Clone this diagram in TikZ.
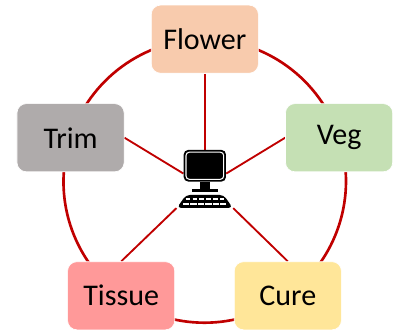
\documentclass[tikz,border=0pt]{standalone}
\usepackage{fontspec}
\setmainfont{Carlito}
\usepackage{xcolor}
\definecolor{ringred}{RGB}{192,0,0}
\definecolor{flowerpeach}{RGB}{248,203,173}
\definecolor{veggreen}{RGB}{197,224,180}
\definecolor{curegold}{RGB}{255,230,153}
\definecolor{tissuepink}{RGB}{255,153,153}
\definecolor{trimgray}{RGB}{175,171,171}
\usetikzlibrary{shapes.geometric, positioning, backgrounds, calc}
\tikzset{
  stage/.style={
    rectangle, draw=white, line width=0.5pt,
    minimum width=81pt, minimum height=51.5pt, inner sep=0pt,
    align=center, rounded corners=7pt, font=\fontsize{22.7}{26}\selectfont},
  ring/.style={ringred, line width=2pt, bend left=36, looseness=0.94},
  spoke/.style={ringred, line width=1.4pt},
  screen/.style={
    rectangle, fill=black, inner sep=0pt,
    minimum width=32pt, minimum height=24pt, rounded corners=3.5pt},
  glass/.style={
    rectangle, draw=white, line width=0.8pt, fill=black, inner sep=0pt,
    minimum width=28.5pt, minimum height=20.5pt, rounded corners=2.5pt},
  keys/.style={white, line width=1.1pt, dash pattern=on 3.6pt off 1.6pt},
}
\begin{document}
\begin{tikzpicture}
  \node[stage, fill=flowerpeach] (flower) at (0,0) {Flower};
  \node[stage, fill=trimgray, below left=22.5pt and 20pt of flower] (trim) {Trim};
  \node[stage, fill=veggreen, below right=22.5pt and 20pt of flower] (veg) {Veg};
  \node[stage, fill=tissuepink, below right=67.5pt and -43.25pt of trim] (tissue) {Tissue};
  \node[stage, fill=curegold, below left=67.5pt and -42.75pt of veg] (cure) {Cure};
  \node[screen, below=57.5pt of flower] (monitor) {};
  \node[glass] (glass) at (monitor) {};
  \node[rectangle, fill=black, minimum width=7.5pt, minimum height=5pt, inner sep=0pt,
        below=0pt of monitor] (neck) {};
  \node[rectangle, fill=black, minimum width=19.5pt, minimum height=2.4pt, inner sep=0pt,
        below=0pt of neck] (stand) {};
  \node[trapezium, fill=black, trapezium angle=55, inner sep=0pt, rounded corners=3pt,
        below=1.5pt of stand] (keyboard) {\phantom{\rule{28.5pt}{9.75pt}}};
  \draw[keys] ([xshift=-14.5pt,yshift=1.8pt]keyboard.center) -- ([xshift=14.5pt,yshift=1.8pt]keyboard.center);
  \draw[keys, dash pattern=on 4.8pt off 0.8pt] ([xshift=-16.5pt,yshift=-1.8pt]keyboard.center) -- ([xshift=16.5pt,yshift=-1.8pt]keyboard.center);
  \begin{scope}[on background layer]
    \draw[ring] (flower.center) to (veg.center);
    \draw[ring] (veg.center) to (cure.center);
    \draw[ring] (cure.center) to (tissue.center);
    \draw[ring] (tissue.center) to (trim.center);
    \draw[ring] (trim.center) to (flower.center);
    \draw[spoke] (flower) -- (monitor);
    \draw[spoke] (trim.east) -- (monitor.200);
    \draw[spoke] (veg.west) -- (monitor.-20);
    \draw[spoke] (tissue.north) -- (keyboard.bottom left corner);
    \draw[spoke] (cure.north) -- (keyboard.bottom right corner);
  \end{scope}
  \useasboundingbox (-154.85pt,29.6pt) rectangle (139.9pt,-219.4pt);
\end{tikzpicture}
\end{document}
